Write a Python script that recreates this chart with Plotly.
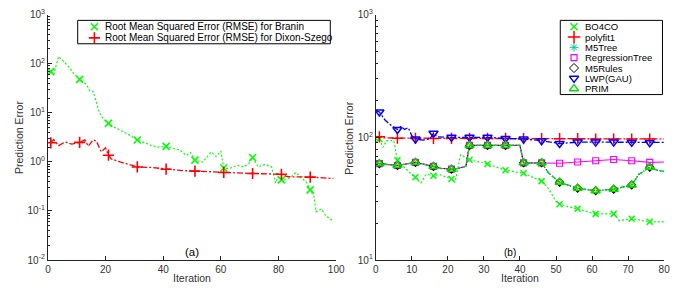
import plotly.graph_objects as go
import numpy as np

# ---------------- Panel (a) data ----------------
BRANIN_X = [1, 2, 3.7, 5.5, 7.2, 8.9, 11, 13.4, 14.5, 15.7, 16.8, 17.9, 19.1, 21, 23, 25.3, 28, 31, 33,
            35.6, 37.8, 41, 43, 45.8, 48, 49.5, 51, 53.7, 56.6, 58.3, 60, 61, 62.8, 65.7, 67.9, 69.7,
            71, 73, 75.3, 77.6, 79, 79.9, 81, 82.7, 84.4, 86.1, 87.8, 89.5, 91, 92.4, 93, 94.9, 96.4, 99]
BRANIN_Y = [69, 60, 140, 108, 87, 64, 48, 38, 28, 27, 17, 10, 7.7, 6.1, 5.1, 4.4, 3.6, 2.8, 2.5,
            2.2, 2.0, 2.07, 1.9, 1.75, 1.35, 1.55, 1.09, 0.99, 1.59, 1.29, 1.66, 0.75, 0.73, 0.85, 0.79, 0.91,
            1.23, 0.79, 0.89, 0.79, 0.37, 0.5, 0.43, 0.43, 0.5, 0.61, 0.47, 0.40, 0.27, 0.19, 0.097, 0.11, 0.08, 0.062]
DIXON_X = [1, 2, 3.7, 6, 8.3, 11, 12.8, 14, 15.7, 16.8, 18.5, 20, 21, 22, 25, 28, 31, 36, 41, 46,
           51, 56, 61, 71, 81, 83, 91, 99]
DIXON_Y = [2.45, 2.85, 2.15, 2.55, 2.3, 2.5, 2.8, 2.1, 2.8, 2.65, 1.6, 1.93, 1.37, 1.15, 1.0, 0.88, 0.79,
           0.77, 0.71, 0.67, 0.65, 0.63, 0.61, 0.58, 0.56, 0.5, 0.49, 0.46]
MARK_A = [1, 11, 21, 31, 41, 51, 61, 71, 81, 91]
A_XTICKS = [0, 20, 40, 60, 80, 100]
A_YTICKS = [0.01, 0.1, 1, 10, 100, 1000]
A_YTEXT = ["10<sup>-2</sup>", "10<sup>-1</sup>", "10<sup>0</sup>", "10<sup>1</sup>", "10<sup>2</sup>", "10<sup>3</sup>"]
A_NAMES = ["Root Mean Squared Error (RMSE) for Branin", "Root Mean Squared Error (RMSE) for Dixon-Szego"]

# ---------------- Panel (b) data ----------------
MARK_B = [1, 6, 11, 16, 21, 26, 31, 36, 41, 46, 51, 56, 61, 66, 71, 76]
BO4CO_X = [0, 1, 2, 3, 5, 6, 8, 11, 12.5, 14, 16, 17.5, 21, 22, 23.5, 25.5, 26, 31, 36, 41, 46, 48, 50,
           51, 56, 61, 66, 67.5, 71, 76, 80]
BO4CO_Y = [96, 97, 83, 94, 94, 65, 56.5, 47.3, 42.5, 50, 48.7, 50, 45.8, 43, 72, 67.6, 65.6, 60.7, 53.9,
           51, 44, 38, 30, 28.5, 26.2, 23.8, 23.8, 21, 21.7, 20.5, 20.5]
POLY_X = [0, 1, 2, 6, 11, 16, 21, 26, 31, 36, 41, 46, 51, 56, 61, 66, 71, 76, 80]
POLY_Y = [99, 101, 99, 98.5, 98, 98, 98, 98, 98, 98, 97.5, 97.5, 97.5, 97.5, 97, 97, 97, 97, 97]
M5TREE_X = [0, 1, 6, 11, 16, 18, 21, 23, 25, 26, 31, 36, 40, 41, 46, 48, 51, 56, 61, 66, 71, 73, 76, 78, 80]
M5TREE_Y = [62, 61, 59, 62.5, 58, 56, 55, 56, 58, 86, 86, 86, 86, 62, 62, 51, 43, 38.5, 36.7, 37.8, 41, 50,
            57, 54, 52.7]
M5RULES_X = list(M5TREE_X)
M5RULES_Y = list(M5TREE_Y)
PRIM_X = list(M5TREE_X)
PRIM_Y = list(M5TREE_Y)
RTREE_X = [0, 1, 6, 11, 16, 18, 21, 23, 25, 26, 31, 36, 40, 41, 46, 51, 56, 61, 66, 71, 76, 80]
RTREE_Y = [62, 61, 59, 62.5, 58, 56, 55, 56, 58, 86, 86, 86, 86, 62, 62, 61.5, 63, 64.5, 66, 64.5, 62.5, 63]
LWP_X = [0, 1, 2.5, 4, 6, 7, 8, 9, 10, 11, 13, 15, 16, 17, 21, 26, 31, 36, 41, 46, 51, 56, 61, 66, 71, 76, 80]
LWP_Y = [165, 161, 139, 127, 116, 123, 116, 120, 103, 97, 95, 97, 108, 101, 100, 100, 100, 98, 97, 94, 89,
         91.5, 91.5, 91.5, 91, 90.5, 91]
B_XTICKS = [0, 10, 20, 30, 40, 50, 60, 70, 80]
B_YTICKS = [10, 100, 1000]
B_YTEXT = ["10<sup>1</sup>", "10<sup>2</sup>", "10<sup>3</sup>"]
B_NAMES = ["BO4CO", "polyfit1", "M5Tree", "RegressionTree", "M5Rules", "LWP(GAU)", "PRIM"]

FONT = "Liberation Sans"
W, H = 699, 289
TXT = "#333333"


def px(x):
    return x / W


def py(y):
    return 1 - y / H


def marks(xs, ys, at):
    d = dict(zip(xs, ys))
    return at, [d[a] for a in at]


fig = go.Figure()

# ---- panel (a) traces ----
fig.add_trace(go.Scatter(x=BRANIN_X, y=BRANIN_Y, mode="lines", xaxis="x", yaxis="y",
                         line=dict(color="#00ff00", width=1.2, dash="2px,2px"), showlegend=False))
mx, my = marks(BRANIN_X, BRANIN_Y, MARK_A)
fig.add_trace(go.Scatter(x=mx, y=my, mode="markers", xaxis="x", yaxis="y", showlegend=False,
                         marker=dict(symbol="x-thin", size=7, line=dict(color="#00ff00", width=1.6))))
fig.add_trace(go.Scatter(x=DIXON_X, y=DIXON_Y, mode="lines", xaxis="x", yaxis="y",
                         line=dict(color="#ff0000", width=1.3, dash="6px,2px,2px,2px"), showlegend=False))
mx, my = marks(DIXON_X, DIXON_Y, MARK_A)
fig.add_trace(go.Scatter(x=mx, y=my, mode="markers", xaxis="x", yaxis="y", showlegend=False,
                         marker=dict(symbol="cross-thin", size=8, line=dict(color="#ff0000", width=1.6))))

# ---- panel (b) traces ----
B_STYLE = [
    (BO4CO_X, BO4CO_Y, "#00ff00", "2px,2px", 1.2, "x-thin", 6, 1.5),
    (POLY_X, POLY_Y, "#ff0000", "6px,2px,2px,2px", 1.3, "cross-thin", 8, 1.5),
    (M5TREE_X, M5TREE_Y, "#00ffff", "5px,3px", 1.2, "asterisk-open", 6, 1.0),
    (RTREE_X, RTREE_Y, "#ff00ff", "solid", 1.2, "square-open", 6, 1.2),
    (M5RULES_X, M5RULES_Y, "#000000", "1px,2px", 1.2, "diamond-open", 6, 1.2),
    (LWP_X, LWP_Y, "#0000ff", "6px,2px,2px,2px", 1.3, "triangle-down-open", 8, 1.5),
    (PRIM_X, PRIM_Y, "#00dd00", "5px,3px", 1.2, "triangle-up-open", 8, 1.5),
]
for xs, ys, col, dash, lw, sym, sz, mw in B_STYLE:
    fig.add_trace(go.Scatter(x=xs, y=ys, mode="lines", xaxis="x2", yaxis="y2",
                             line=dict(color=col, width=lw, dash=dash), showlegend=False))
    mx, my = marks(xs, ys, MARK_B)
    if sym in ("x-thin", "cross-thin", "asterisk-open"):
        mk = dict(symbol=sym, size=sz, line=dict(color=col, width=mw))
    else:
        mk = dict(symbol=sym, size=sz, color=col, line=dict(color=col, width=mw))
    fig.add_trace(go.Scatter(x=mx, y=my, mode="markers", xaxis="x2", yaxis="y2",
                             marker=mk, showlegend=False))

# ---- custom legends (hidden axes in pixel units) ----
LA = dict(x0=76, x1=333, y0=14, y1=38.5)
A_LEG = [("x-thin", "#00ff00", 7, 1.6), ("cross-thin", "#ff0000", 8, 1.6)]
for i, (sym, col, sz, mw) in enumerate(A_LEG):
    yy = 20.7 + i * 11.6
    fig.add_trace(go.Scatter(x=[93], y=[yy], mode="markers", xaxis="x3", yaxis="y3", showlegend=False,
                             marker=dict(symbol=sym, size=sz, line=dict(color=col, width=mw))))
    fig.add_annotation(x=101.5, y=yy, xref="x3", yref="y3", text=A_NAMES[i], showarrow=False,
                       xanchor="left", yanchor="middle", font=dict(family=FONT, size=10, color="#000"))
LB = dict(x0=567, x1=671, y0=14, y1=91.7)
for i, (xs, ys, col, dash, lw, sym, sz, mw) in enumerate(B_STYLE):
    yy = 20.7 + i * 10.8
    if sym in ("x-thin", "cross-thin", "asterisk-open"):
        mk = dict(symbol=sym, size=sz + 1, line=dict(color=col, width=mw))
    else:
        mk = dict(symbol=sym, size=sz, color=col, line=dict(color=col, width=mw))
    if B_NAMES[i] == "M5Rules":
        mk = dict(symbol=sym, size=7, color="#000", line=dict(color="#000", width=1.0))
    fig.add_trace(go.Scatter(x=[581], y=[yy], mode="markers", xaxis="x4", yaxis="y4", showlegend=False,
                             marker=mk))
    fig.add_annotation(x=590, y=yy, xref="x4", yref="y4", text=B_NAMES[i], showarrow=False,
                       xanchor="left", yanchor="middle", font=dict(family=FONT, size=9.5, color="#000"))

for L in (LA, LB):
    fig.add_shape(type="rect", xref="paper", yref="paper", x0=px(L["x0"]), x1=px(L["x1"]),
                  y0=py(L["y1"]), y1=py(L["y0"]), line=dict(color="#000", width=1),
                  fillcolor="white", layer="below")

# ---- titles / labels ----
lab = dict(family=FONT, size=10.5, color=TXT)
for x, y, t, ang in [(16.5, 137, "Prediction Error", -90), (352, 137, "Prediction Error", -90),
                     (192.5, 283.5, "Iteration", 0), (526, 283.5, "Iteration", 0)]:
    fig.add_annotation(x=px(x), y=py(y), xref="paper", yref="paper", text=t, textangle=ang,
                       showarrow=False, xanchor="center", yanchor="middle", font=lab)
fig.add_annotation(x=px(192.5), y=py(256.5), xref="paper", yref="paper", text="(a)", showarrow=False,
                   xanchor="center", yanchor="middle", font=dict(family=FONT, size=11.5, color="#000"))
fig.add_annotation(x=px(515.8), y=py(257), xref="paper", yref="paper", text="(b)", showarrow=False,
                   xanchor="center", yanchor="middle", font=dict(family=FONT, size=10, color="#000"))

ydom = [py(265), py(8)]
ax_common = dict(showline=True, linecolor="#222", linewidth=1, ticks="inside", ticklen=4,
                 tickcolor="#222", showgrid=False, zeroline=False, mirror=False,
                 tickfont=dict(family=FONT, size=10, color=TXT))


def minor_vals(lo, hi):
    return [k * 10.0 ** e for e in range(lo, hi) for k in range(2, 10)]


fig.update_layout(
    width=W, height=H, margin=dict(l=0, r=0, t=0, b=0), autosize=False,
    paper_bgcolor="white", plot_bgcolor="rgba(0,0,0,0)", showlegend=False,
    xaxis=dict(domain=[px(45.7), px(339)], range=[0, 100], tickvals=A_XTICKS, anchor="y", **ax_common),
    yaxis=dict(domain=ydom, type="log", range=[-2, 3], tickvals=A_YTICKS, ticktext=A_YTEXT, anchor="x",
               minor=dict(tickvals=minor_vals(-2, 3), ticks="inside", ticklen=2, tickcolor="#222"),
               **ax_common),
    xaxis2=dict(domain=[px(379.3), px(672.7)], range=[0, 80], tickvals=B_XTICKS, anchor="y2", **ax_common),
    yaxis2=dict(domain=ydom, type="log", range=[1, 3], tickvals=B_YTICKS, ticktext=B_YTEXT, anchor="x2",
                minor=dict(tickvals=minor_vals(1, 3), ticks="inside", ticklen=2, tickcolor="#222"),
                **ax_common),
    xaxis3=dict(domain=[px(LA["x0"]), px(LA["x1"])], range=[LA["x0"], LA["x1"]], visible=False, anchor="y3"),
    yaxis3=dict(domain=[py(LA["y1"]), py(LA["y0"])], range=[LA["y1"], LA["y0"]], visible=False, anchor="x3"),
    xaxis4=dict(domain=[px(LB["x0"]), px(LB["x1"])], range=[LB["x0"], LB["x1"]], visible=False, anchor="y4"),
    yaxis4=dict(domain=[py(LB["y1"]), py(LB["y0"])], range=[LB["y1"], LB["y0"]], visible=False, anchor="x4"),
)

fig.write_html("out.html", config={"responsive": False, "displayModeBar": False},
               default_width="699px", default_height="289px",
               post_script="document.body.style.margin='0px';document.body.style.overflow='hidden';")
